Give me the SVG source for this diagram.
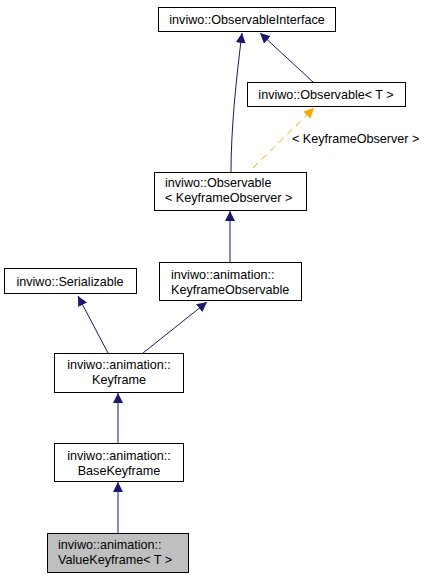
<svg xmlns="http://www.w3.org/2000/svg" width="427" height="580" viewBox="0 0 427 580">
<style>
.box{fill:#fff;stroke:#000;stroke-width:1}
.cur{fill:#bfbfbf;stroke:#000;stroke-width:1}
text{font-family:"Liberation Sans",Arial,sans-serif;font-size:12.6px;fill:#000}
.c{text-anchor:middle}
.e{fill:none;stroke:#191970;stroke-width:1}
.d{fill:none;stroke:#ffa500;stroke-width:1;stroke-dasharray:7,5}
</style>
<defs>
<marker id="ah" viewBox="0 0 10 10" refX="10" refY="5" markerWidth="10" markerHeight="10" markerUnits="userSpaceOnUse" orient="auto"><path d="M0,0 L10,5 L0,10 z" fill="#191970"/></marker>
<marker id="ao" viewBox="0 0 10 10" refX="10" refY="5" markerWidth="10" markerHeight="10" markerUnits="userSpaceOnUse" orient="auto"><path d="M0,0 L10,5 L0,10 z" fill="#ffa500"/></marker>
</defs>
<rect width="427" height="580" fill="#fff"/>
<g id="edges">
<path class="e" d="M231,172 C231,130 236,80 242,33" marker-end="url(#ah)"/>
<path class="e" d="M313,82 L260,33" marker-end="url(#ah)"/>
<path class="d" d="M253,168 L314,108" marker-end="url(#ao)"/>
<text x="292" y="143">&lt; KeyframeObserver &gt;</text>
<path class="e" d="M230,262 L230,211" marker-end="url(#ah)"/>
<path class="e" d="M108,353 L78,296" marker-end="url(#ah)"/>
<path class="e" d="M143,353 L207,302" marker-end="url(#ah)"/>
<path class="e" d="M118,443 L118,393" marker-end="url(#ah)"/>
<path class="e" d="M118,533 L118,482" marker-end="url(#ah)"/>
</g>
<g id="n_observableinterface">
<rect class="box" x="158.5" y="7.5" width="177" height="24"/>
<text class="c" x="247" y="24">inviwo::ObservableInterface</text>
</g>
<g id="n_observable_t">
<rect class="box" x="247.5" y="82.5" width="158" height="24"/>
<text class="c" x="326" y="99">inviwo::Observable&lt; T &gt;</text>
</g>
<g id="n_observable_kf">
<rect class="box" x="154.5" y="172.5" width="152" height="38"/>
<text x="165" y="187">inviwo::Observable</text>
<text x="165" y="202">&lt; KeyframeObserver &gt;</text>
</g>
<g id="n_serializable">
<rect class="box" x="4.5" y="268.5" width="132" height="25"/>
<text class="c" x="70" y="286">inviwo::Serializable</text>
</g>
<g id="n_keyframeobservable">
<rect class="box" x="159.5" y="262.5" width="142" height="38"/>
<text x="171" y="279">inviwo::animation::</text>
<text x="171" y="294">KeyframeObservable</text>
</g>
<g id="n_keyframe">
<rect class="box" x="54.5" y="353.5" width="129" height="39"/>
<text class="c" x="119" y="369">inviwo::animation::</text>
<text class="c" x="119" y="384">Keyframe</text>
</g>
<g id="n_basekeyframe">
<rect class="box" x="54.5" y="443.5" width="129" height="38"/>
<text class="c" x="119" y="460">inviwo::animation::</text>
<text class="c" x="119" y="475">BaseKeyframe</text>
</g>
<g id="n_valuekeyframe">
<rect class="cur" x="47.5" y="533.5" width="141" height="39"/>
<text x="58" y="549">inviwo::animation::</text>
<text x="58" y="564">ValueKeyframe&lt; T &gt;</text>
</g>
</svg>
